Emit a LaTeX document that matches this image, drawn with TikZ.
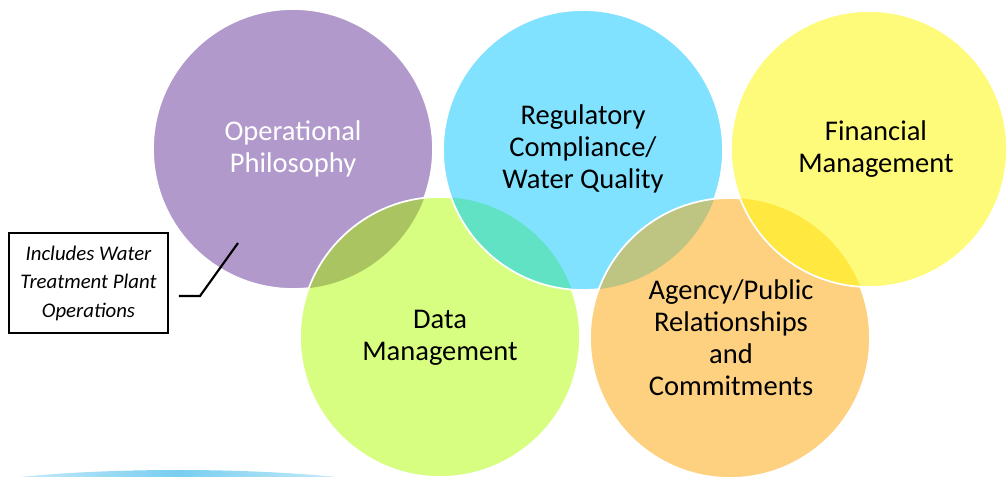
\documentclass[tikz,border=0pt]{standalone}
\usepackage{fontspec}
\setmainfont{Carlito}
\definecolor{operc}{HTML}{B19ACB}
\definecolor{datac}{HTML}{D7FE80}
\definecolor{regc}{HTML}{80E2FF}
\definecolor{agencyc}{HTML}{FED180}
\definecolor{finc}{HTML}{FFFB7A}
\definecolor{operdatac}{HTML}{AAC462}
\definecolor{dataregc}{HTML}{62E2C4}
\definecolor{regagencyc}{HTML}{BEC482}
\definecolor{agencyfinc}{HTML}{FFE840}
\definecolor{stripc}{HTML}{78CEF0}
\tikzset{
	ring/.style={draw=white, line width=1.3pt},
	ringtext/.style={align=center, font=\fontsize{21.4}{24}\selectfont},
	notebox/.style={draw, line width=1.6pt, minimum width=119pt, minimum height=75pt, align=center, inner sep=0pt, font=\fontsize{15.6}{21.4}\selectfont\itshape},
	callout/.style={line width=1.6pt}
}
\begin{document}
\begin{tikzpicture}[x=0.75pt,y=-0.75pt]
	\useasboundingbox (0,0) rectangle (1006,476);
	\clip (0,0) rectangle (1006,476);
	% strip at the bottom
	\shade[left color=stripc!10, right color=stripc!10, middle color=stripc] (178,501) ellipse (250 and 31);
	% circles, each one over the one before it
	\fill[operc] (293,149) circle (105pt);
	\draw[ring] (293,149) circle (105pt);
	\fill[datac] (440,337) circle (105pt);
	\begin{scope}
		\clip (440,337) circle (105pt);
		\fill[operdatac] (293,149) circle (105pt);
	\end{scope}
	\draw[ring] (440,337) circle (105pt);
	\fill[regc] (583,150) circle (105pt);
	\begin{scope}
		\clip (583,150) circle (105pt);
		\fill[dataregc] (440,337) circle (105pt);
	\end{scope}
	\draw[ring] (583,150) circle (105pt);
	\fill[agencyc] (730,338) circle (105pt);
	\begin{scope}
		\clip (730,338) circle (105pt);
		\fill[regagencyc] (583,150) circle (105pt);
	\end{scope}
	\draw[ring] (730,338) circle (105pt);
	\fill[finc] (869,149) circle (103.5pt);
	\begin{scope}
		\clip (869,149) circle (103.5pt);
		\fill[agencyfinc] (730,338) circle (105pt);
	\end{scope}
	\draw[ring] (869,149) circle (103.5pt);
	% texts
	\node[ringtext, white] (oper) at (293,149) {Operational\\Philosophy};
	\node[ringtext] (reg) at (583,149) {Regulatory\\Compliance/\\Water Quality};
	\node[ringtext] (fin) at (876,149) {Financial\\Management};
	\node[ringtext] (data) at (440,338) {Data\\Management};
	\node[ringtext] (agency) at (731,338) {Agency/Public\\Relationships\\and\\Commitments};
	% note
	\node[notebox] (note) at (88.5,283) {Includes Water\\Treatment Plant\\Operations};
	\coordinate (bend) at (200,296);
	\coordinate (tip) at (238,243);
	\draw[callout] ([xshift=7.5pt]note.east |- bend) -- (bend) -- (tip);
\end{tikzpicture}
\end{document}
